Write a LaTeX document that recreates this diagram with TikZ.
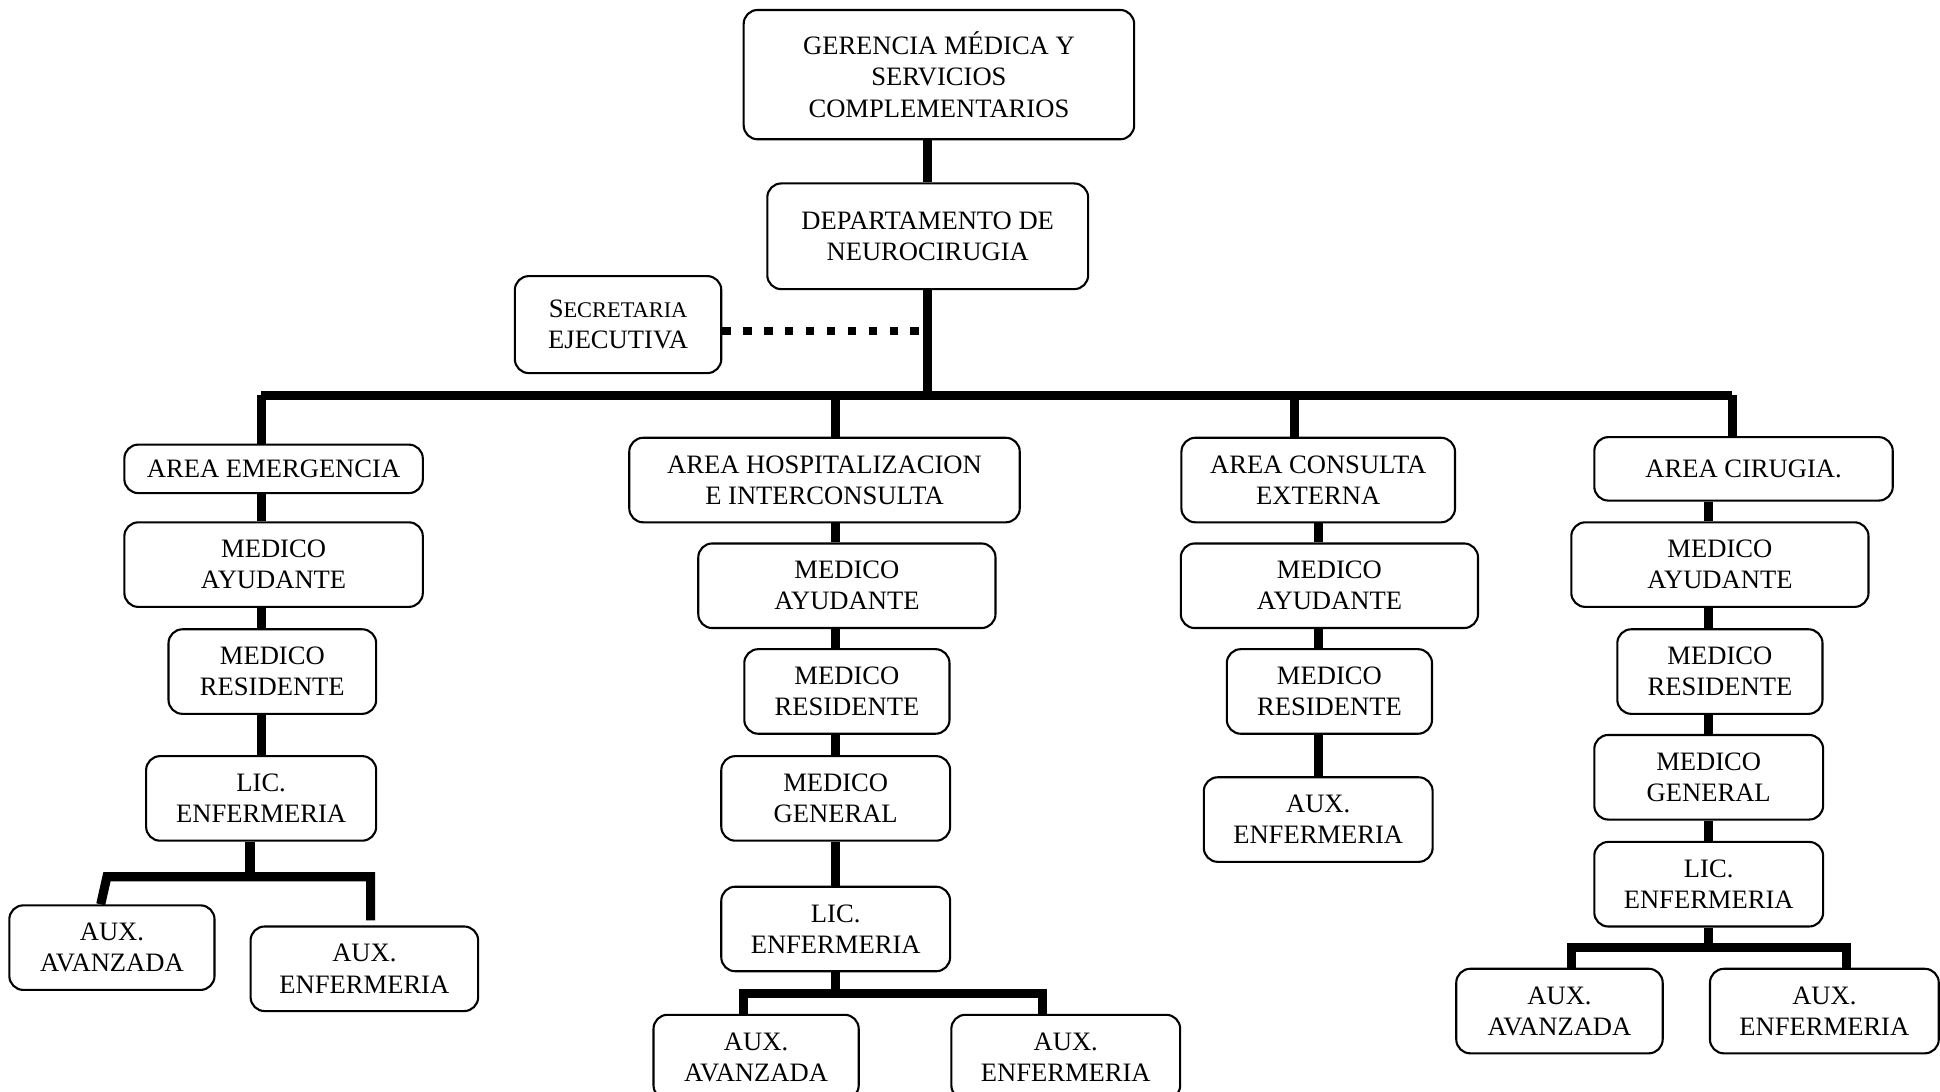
\documentclass[tikz,border=0pt]{standalone}
\usepackage{fontspec}
\setmainfont{Liberation Serif}
\usetikzlibrary{calc}

\tikzset{
    caja/.style 2 args={draw, line width=0.6pt, rounded corners=4pt, align=center, inner sep=0pt,
        minimum width=#1*0.0125cm, minimum height=#2*0.0125cm, font=\fontsize{7.6}{8.9}\selectfont},
    linea/.style={line width=2.6pt, line join=miter},
    punteado/.style={line width=2.4pt, dash pattern=on 0.085cm off 0.125cm}
}

\begin{document}
\begin{tikzpicture}[x=0.0125cm, y=-0.0125cm]
        \useasboundingbox (0,0) rectangle (1560,878);
        \clip (0,0) rectangle (1560,878);

        \node[caja={314}{104}] (ger) at (755,60) {GERENCIA MÉDICA Y\\SERVICIOS\\COMPLEMENTARIOS};
        \node[caja={258}{85}] (dep) at (746,190) {DEPARTAMENTO DE\\NEUROCIRUGIA};
        \node[caja={166}{78}] (sec) at (497,261) {S{\fontsize{6.4}{8.9}\selectfont ECRETARIA}\\EJECUTIVA};

        % areas
        \node[caja={240}{39}] (ae) at (220,377) {AREA EMERGENCIA};
        \node[caja={314}{68}] (ah) at (663,386) {AREA HOSPITALIZACION\\E INTERCONSULTA};
        \node[caja={220}{68}] (ac) at (1060,386) {AREA CONSULTA\\EXTERNA};
        \node[caja={240}{51}] (ax) at (1402,377) {AREA CIRUGIA.};

        % emergencia
        \node[caja={240}{68}] (ae_ay) at (220,454) {MEDICO\\AYUDANTE};
        \node[caja={167}{68}] (ae_re) at (219,540) {MEDICO\\RESIDENTE};
        \node[caja={185}{68}] (ae_li) at (210,642) {LIC.\\ENFERMERIA};
        \node[caja={165}{68}] (ae_av) at (90,762) {AUX.\\AVANZADA};
        \node[caja={183}{68}] (ae_en) at (293,779) {AUX.\\ENFERMERIA};

        % hospitalizacion
        \node[caja={239}{68}] (ah_ay) at (681,471) {MEDICO\\AYUDANTE};
        \node[caja={165}{68}] (ah_re) at (681,556) {MEDICO\\RESIDENTE};
        \node[caja={184}{68}] (ah_ge) at (672,642) {MEDICO\\GENERAL};
        \node[caja={184}{68}] (ah_li) at (672,747) {LIC.\\ENFERMERIA};
        \node[caja={165}{68}] (ah_av) at (608,850) {AUX.\\AVANZADA};
        \node[caja={184}{68}] (ah_en) at (857,850) {AUX.\\ENFERMERIA};

        % consulta externa
        \node[caja={239}{68}] (ac_ay) at (1069,471) {MEDICO\\AYUDANTE};
        \node[caja={165}{68}] (ac_re) at (1069,556) {MEDICO\\RESIDENTE};
        \node[caja={184}{68}] (ac_en) at (1060,659) {AUX.\\ENFERMERIA};

        % cirugia
        \node[caja={239}{68}] (ax_ay) at (1383,454) {MEDICO\\AYUDANTE};
        \node[caja={165}{68}] (ax_re) at (1383,540) {MEDICO\\RESIDENTE};
        \node[caja={184}{68}] (ax_ge) at (1374,625) {MEDICO\\GENERAL};
        \node[caja={184}{68}] (ax_li) at (1374,711) {LIC.\\ENFERMERIA};
        \node[caja={166}{68}] (ax_av) at (1254,813) {AUX.\\AVANZADA};
        \node[caja={184}{68}] (ax_en) at (1467,813) {AUX.\\ENFERMERIA};

        % conectores
        \coordinate (b0) at (746,318);
        \coordinate (b1) at (210,318);
        \coordinate (b2) at (672,318);
        \coordinate (b3) at (1041,318);
        \coordinate (b4) at (1393,318);

        \draw[linea] (ger.south -| dep) -- (dep.north);
        \draw[linea] (dep.south) -- (b0);
        \draw[punteado] (sec.east |- 0,266) -- (746,266);
        \draw[linea] (b1) -- (b4);
        \draw[linea] (b1) -- (b1 |- ae.north);
        \draw[linea] (b2) -- (b2 |- ah.north);
        \draw[linea] (b3) -- (b3 |- ac.north);
        \draw[linea] (b4) -- (b4 |- ax.north);

        \draw[linea] (ae.south -| b1) -- (b1 |- ae_ay.north);
        \draw[linea] (ae_ay.south -| b1) -- (b1 |- ae_re.north);
        \draw[linea] (ae_re.south -| b1) -- (b1 |- ae_li.north);
        \coordinate (e1) at (201,705);
        \draw[linea] (ae_li.south -| e1) -- (e1);
        \draw[linea] (ae_av.north -| 81,0) -- (86,705) -- (298,705) -- (298,740);

        \draw[linea] (ah.south -| b2) -- (b2 |- ah_ay.north);
        \draw[linea] (ah_ay.south -| b2) -- (b2 |- ah_re.north);
        \draw[linea] (ah_re.south -| b2) -- (b2 |- ah_ge.north);
        \draw[linea] (ah_ge.south -| b2) -- (b2 |- ah_li.north);
        \coordinate (h1) at (672,799);
        \draw[linea] (ah_li.south) -- (h1);
        \draw[linea] (ah_av.north -| 598,0) -- (598,799) -- (838,799) -- (ah_en.north -| 838,0);

        \coordinate (c1) at (1060,0);
        \draw[linea] (ac.south -| c1) -- (c1 |- ac_ay.north);
        \draw[linea] (ac_ay.south -| c1) -- (c1 |- ac_re.north);
        \draw[linea] (ac_re.south -| c1) -- (c1 |- ac_en.north);

        \coordinate (x1) at (1374,0);
        \draw[linea] (ax.south -| x1) -- (x1 |- ax_ay.north);
        \draw[linea] (ax_ay.south -| x1) -- (x1 |- ax_re.north);
        \draw[linea] (ax_re.south -| x1) -- (x1 |- ax_ge.north);
        \draw[linea] (ax_ge.south -| x1) -- (x1 |- ax_li.north);
        \draw[linea] (ax_li.south) -- (1374,762);
        \draw[linea] (ax_av.north -| 1264,0) -- (1264,762) -- (1485,762) -- (ax_en.north -| 1485,0);

    \end{tikzpicture}
\end{document}
